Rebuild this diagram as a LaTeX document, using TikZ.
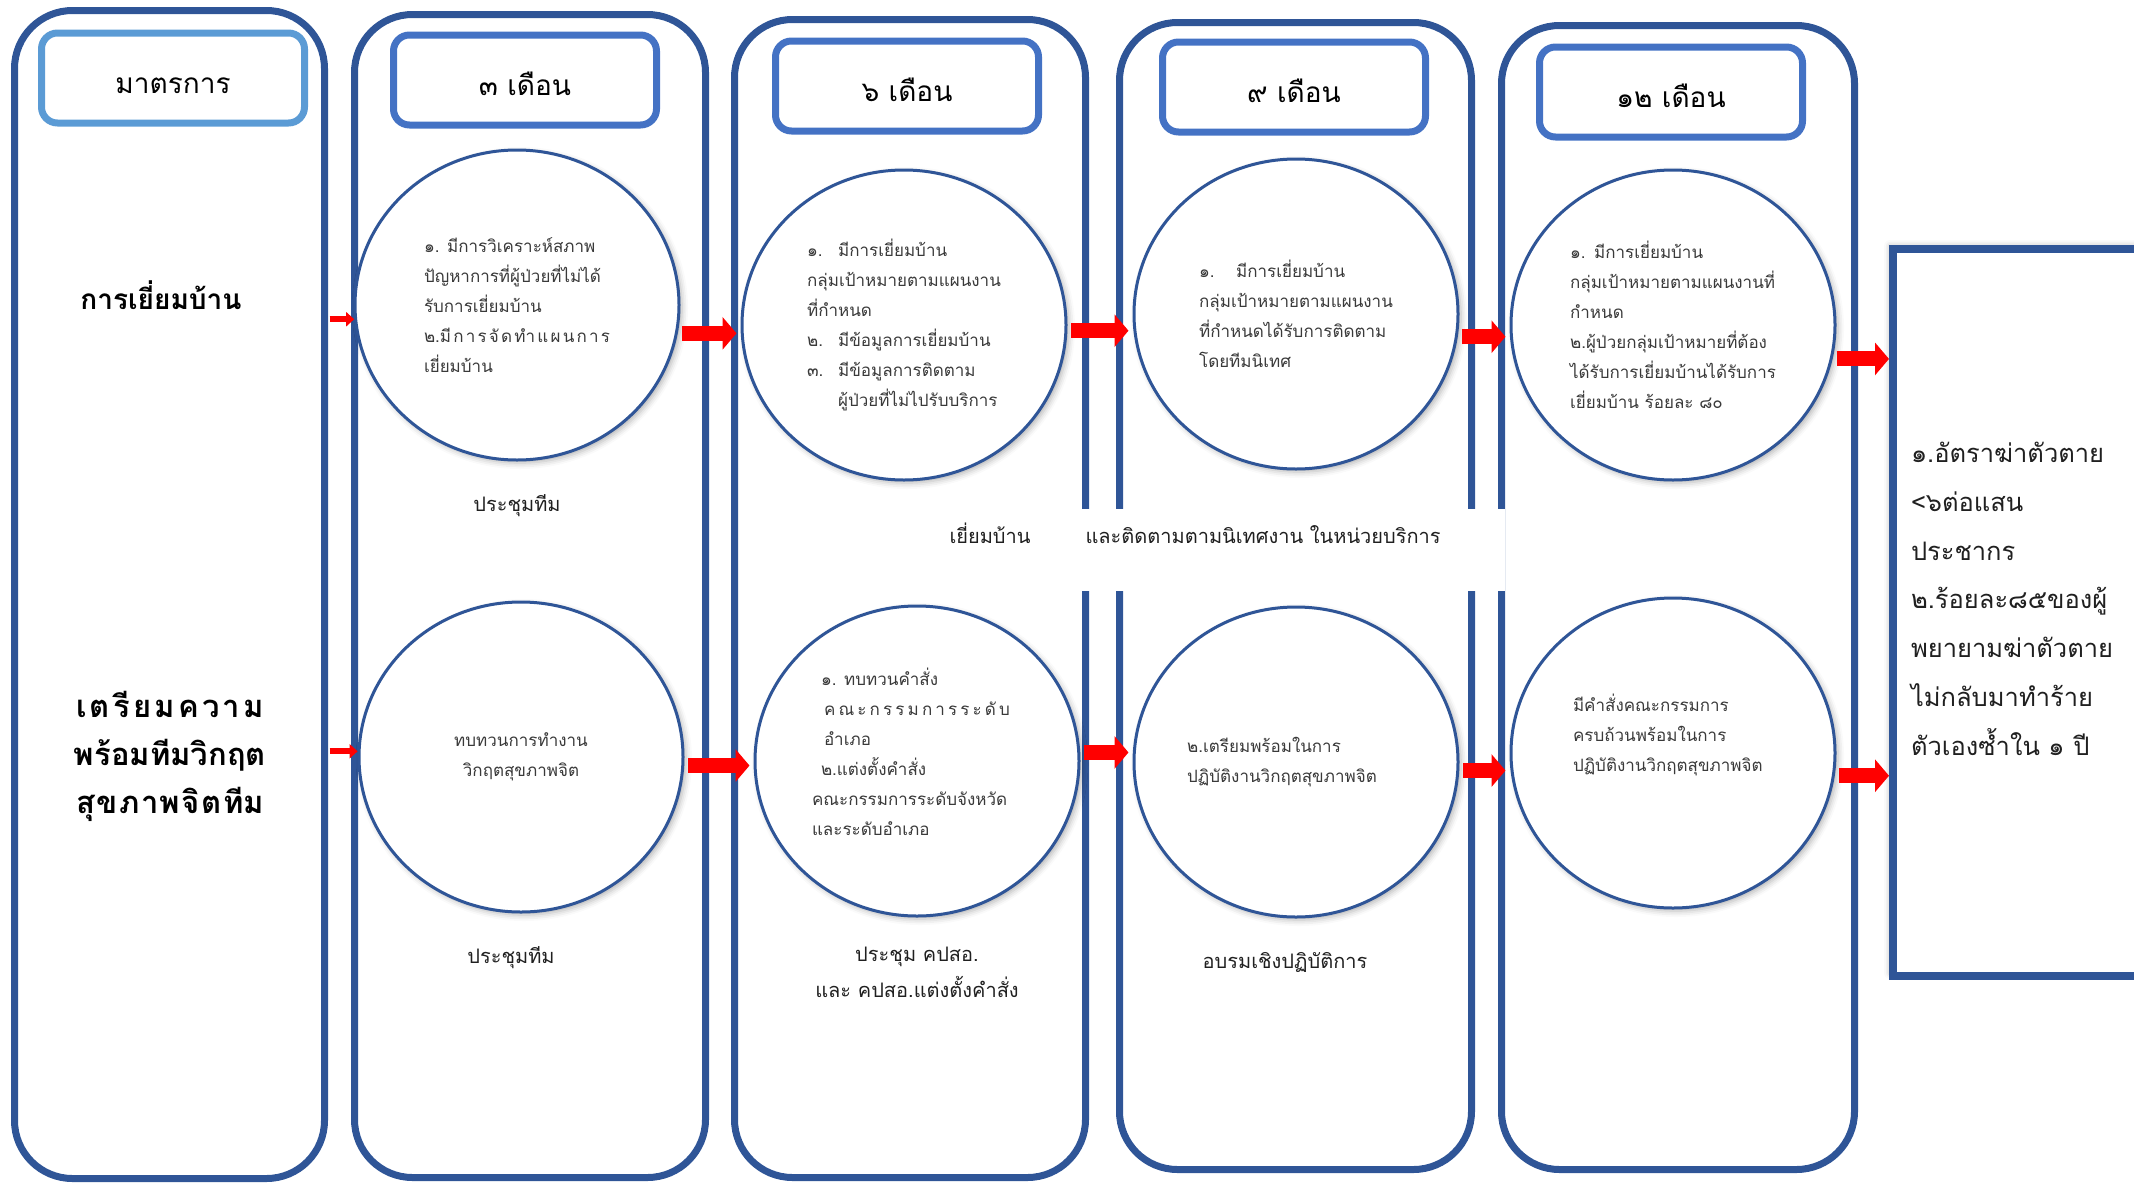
\documentclass[tikz,border=0pt]{standalone}
\usepackage{fontspec}
\setmainfont[Script=Thai]{Loma}
\usetikzlibrary{shapes,arrows.meta,positioning,shadows.blur}

\definecolor{colblue}{HTML}{2F5597}
\definecolor{headblue}{HTML}{4472C4}
\definecolor{lightblue}{HTML}{5B9BD5}
\definecolor{inkgrey}{HTML}{3A3A3A}
\definecolor{inkdark}{HTML}{202020}

\newcommand{\fs}[2]{\fontsize{#1}{#2}\selectfont}

\begin{document}
\begin{tikzpicture}[x=1pt, y=-1pt, node distance=30pt]
    \tikzset{
        colbox/.style      =   { draw=colblue
                               , line width=7pt
                               , rounded corners=58pt
                               , anchor=north west
                               , inner sep=0pt
                               , outer sep=0pt
        }
        , headbox/.style   =   { draw=headblue
                               , line width=7pt
                               , rounded corners=16pt
                               , minimum width=263pt
                               , minimum height=90pt
                               , text height=30pt
                               , text depth=0pt
                               , font=\fs{28}{36}
        }
        , stage/.style     =   { ellipse
                               , draw=colblue
                               , line width=3pt
                               , fill=white
                               , minimum width=324pt
                               , minimum height=310pt
                               , align=left
                               , text=inkgrey
                               , font=\fs{17}{30}
                               , blur shadow={shadow xshift=3pt, shadow yshift=-3pt, shadow blur radius=6pt, shadow opacity=30}
        }
        , note/.style      =   { align=center
                               , text=inkdark
                               , font=\fs{20}{36}
        }
        , rowlabel/.style  =   { align=center
                               , font=\bfseries\fs{31}{48}
        }
        , bigarrow/.style  =   { red
                               , line width=15pt
                               , shorten <=4pt
                               , shorten >=4pt
                               , -{Triangle[length=14pt, width=32pt]}
        }
        , tinyarrow/.style =   { red
                               , line width=6pt
                               , shorten <=5pt
                               , -{Triangle[length=8pt, width=14pt]}
        }
        , goalbox/.style   =   { draw=colblue
                               , line width=8pt
                               , fill=white
                               , anchor=north west
                               , outer sep=0pt
                               , minimum width=250pt
                               , minimum height=727pt
                               , text=inkdark
                               , font=\fs{25.5}{48.8}
                               , blur shadow={shadow xshift=-3pt, shadow yshift=3pt, shadow blur radius=6pt, shadow opacity=30}
        }
    }
    \useasboundingbox (0,0) rectangle (2134,1184);
    \clip (0,0) rectangle (2134,1184);

    % columns
    \node(col1)[colbox, minimum width=310pt, minimum height=1168pt] at (14.5,10.5) {};
    \node(col2)[colbox, minimum width=351pt, minimum height=1163pt] at (354.5,14.5) {};
    \node(col3)[colbox, minimum width=351pt, minimum height=1158pt] at (734.5,19.5) {};
    \node(col4)[colbox, minimum width=352pt, minimum height=1147pt] at (1119.5,22.5) {};
    \node(col5)[colbox, minimum width=353pt, minimum height=1144pt] at (1501.5,25.5) {};

    % headers
    \node(h1)[headbox, draw=lightblue] at (173,78) {มาตรการ};
    \node(h2)[headbox] at (525,80)  {๓ เดือน};
    \node(h3)[headbox] at (907,86)  {๖ เดือน};
    \node(h4)[headbox] at (1294,87) {๙ เดือน};
    \node(h5)[headbox] at (1671,92) {๑๒ เดือน};

    % row labels
    \node(visit)[rowlabel, font=\bfseries\fs{28}{48}] at (161,295) {การเยี่ยมบ้าน};
    \node(crisis)[rowlabel] at (170,756)
        {\makebox[188pt][s]{เ\hfill ต\hfill รี\hfill ย\hfill ม\hfill ค\hfill ว\hfill า\hfill ม}\\
         พร้อมทีมวิกฤต\\
         \makebox[188pt][s]{สุ\hfill ข\hfill ภ\hfill า\hfill พ\hfill จิ\hfill ต\hfill ทีม}};

    % home visit row
    \node(C2a)[stage] at (517,305)
        {๑. มีการวิเคราะห์สภาพ\\ปัญหาการที่ผู้ป่วยที่ไม่ได้\\รับการเยี่ยมบ้าน\\
         \makebox[186pt][s]{๒.มี\hfill ก\hfill า\hfill ร\hfill จั\hfill ด\hfill ทำ\hfill แ\hfill ผ\hfill น\hfill ก\hfill า\hfill ร}\\เยี่ยมบ้าน};
    \node(C3a)[stage] at (904,325)
        {\makebox[31pt][l]{๑.}มีการเยี่ยมบ้าน\\กลุ่มเป้าหมายตามแผนงาน\\ที่กำหนด\\
         \makebox[31pt][l]{๒.}มีข้อมูลการเยี่ยมบ้าน\\
         \makebox[31pt][l]{๓.}มีข้อมูลการติดตาม\\
         \hspace*{31pt}ผู้ป่วยที่ไม่ไปรับบริการ};
    \node(C4a)[stage] at (1296,314)
        {\makebox[37pt][l]{๑.}มีการเยี่ยมบ้าน\\กลุ่มเป้าหมายตามแผนงาน\\ที่กำหนดได้รับการติดตาม\\โดยทีมนิเทศ};
    \node(C5a)[stage] at (1673,325)
        {\makebox[24pt][l]{๑.}มีการเยี่ยมบ้าน\\กลุ่มเป้าหมายตามแผนงานที่\\กำหนด\\
         ๒.ผู้ป่วยกลุ่มเป้าหมายที่ต้อง\\ได้รับการเยี่ยมบ้านได้รับการ\\เยี่ยมบ้าน ร้อยละ ๘๐};

    % crisis team row
    \node(C2b)[stage, align=center] at (521,757) {ทบทวนการทำงาน\\วิกฤตสุขภาพจิต};
    \node(C3b)[stage] at (917,761)
        {\raisebox{5pt}[0pt][0pt]{\parbox{210pt}{\raggedright
         \hspace*{9pt}๑. ทบทวนคำสั่ง\\
         \hspace*{12pt}\makebox[186pt][s]{ค\hfill ณ\hfill ะ\hfill ก\hfill ร\hfill ร\hfill ม\hfill ก\hfill า\hfill ร\hfill ร\hfill ะ\hfill ดั\hfill บ}\\
         \hspace*{12pt}อำเภอ\\
         \hspace*{9pt}๒.แต่งตั้งคำสั่ง\\
         คณะกรรมการระดับจังหวัด\\และระดับอำเภอ}}};
    \node(C4b)[stage] at (1296,762) {๒.เตรียมพร้อมในการ\\ปฏิบัติงานวิกฤตสุขภาพจิต\hspace*{28pt}};
    \node(C5b)[stage] at (1673,753)
        {\raisebox{14pt}[0pt][0pt]{\parbox{200pt}{\raggedright มีคำสั่งคณะกรรมการ\\ครบถ้วนพร้อมในการ\\ปฏิบัติงานวิกฤตสุขภาพจิต}}};

    % activities
    \node(meet2a)[note, below=of C2a] {ประชุมทีม};
    \node(meet2b)[note, below=of C2b, xshift=-10pt] {ประชุมทีม};
    \node(meet3b)[note, below=26pt of C3b] {ประชุม คปสอ.\\และ คปสอ.แต่งตั้งคำสั่ง};
    \node(meet4b)[note, below=of C4b, xshift=-11pt] {อบรมเชิงปฏิบัติการ};
    \node(band)[note, fill=white, minimum height=82pt, text width=545pt, align=left, inner xsep=10pt, text height=0pt, text depth=13pt] at (1222,550)
        {\makebox[136pt][l]{เยี่ยมบ้าน}และติดตามตามนิเทศงาน ในหน่วยบริการ};

    % outcome
    \node(goal)[goalbox] at (1893,249)
        {\raisebox{7.5pt}[0pt][0pt]{\parbox{214pt}{\raggedright ๑.อัตราฆ่าตัวตาย\\<๖ต่อแสน\\ประชากร\\๒.ร้อยละ๘๕ของผู้\\พยายามฆ่าตัวตาย\\ไม่กลับมาทำร้าย\\ตัวเองซ้ำใน ๑ ปี}}};

    \draw[tinyarrow] (col1.east |- C2a.185) -- (C2a.185);
    \draw[bigarrow]  (C2a.-10) -- (C2a.-10 -| C3a.west);
    \draw[bigarrow]  (C3a.-2)  -- (C3a.-2 -| C4a.west);
    \draw[bigarrow]  (C4a.-8)  -- (C4a.-8 -| C5a.west);
    \draw[bigarrow]  (C5a.-12) -- (C5a.-12 -| goal.west);

    \draw[tinyarrow] (col1.east |- C2b.178) -- (C2b.178);
    \draw[bigarrow]  (C2b.-3) -- (C2b.-3 -| C3b.west);
    \draw[bigarrow]  (C3b.3)  -- (C3b.3 -| C4b.west);
    \draw[bigarrow]  (C4b.-3) -- (C4b.-3 -| C5b.west);
    \draw[bigarrow]  (C5b.-8) -- (C5b.-8 -| goal.west);
\end{tikzpicture}
\end{document}
